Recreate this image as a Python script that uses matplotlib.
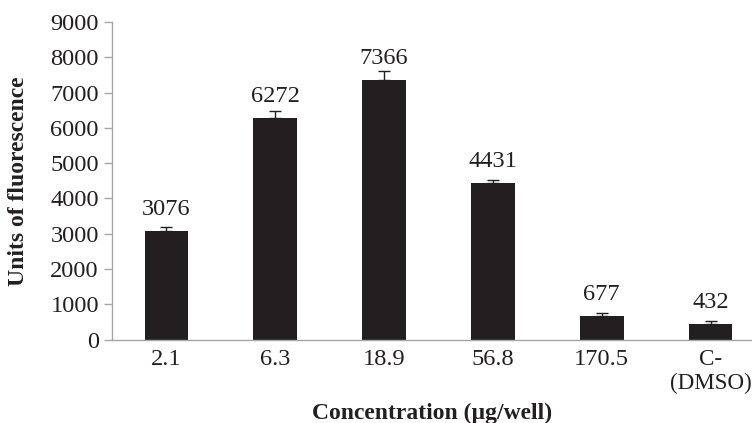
import matplotlib
matplotlib.use("Agg")
import matplotlib.pyplot as plt
import numpy as np

# data
categorias = ["2.1", "6.3", "18.9", "56.8", "170.5", "C-\n(DMSO)"]
fluorescencia = [3076, 6272, 7366, 4431, 677, 432]
error = [110, 210, 250, 100, 70, 100]
etiquetas = ["3076", "6272", "7366", "4431", "677", "432"]

TEXTO = "#231f20"
GRIS = "#a6a6a6"

plt.rcParams["font.family"] = ["Liberation Serif", "DejaVu Serif"]

fig = plt.figure(figsize=(7.52, 4.23), dpi=100)
ax = fig.add_axes([112 / 752, 1 - 339.5 / 423, 1 - 112 / 752, (339.5 - 22) / 423])

x = np.arange(len(categorias))
ax.bar(x, fluorescencia, width=0.4, color=TEXTO, zorder=2)
ax.errorbar(x, fluorescencia, yerr=[np.zeros(len(error)), error], fmt="none",
            ecolor=TEXTO, elinewidth=1, capsize=4.5, capthick=1, zorder=3)

for xi, v, lab in zip(x, fluorescencia, etiquetas):
    ax.annotate(lab, (xi, v), xytext=(0, 11.5), textcoords="offset points",
                ha="center", va="baseline", fontsize=17.6, color=TEXTO)

ax.set_xlim(-0.5, 5.38)
ax.set_ylim(0, 9000)
ax.set_yticks(np.arange(0, 9001, 1000))
ax.set_xticks(x)
ax.set_xticklabels(categorias, linespacing=1.15)
# the last label sits against the right edge, keep it inside
ax.get_xticklabels()[-1].set_fontsize(16.6)

for s in ["top", "right"]:
    ax.spines[s].set_visible(False)
for s in ["left", "bottom"]:
    ax.spines[s].set_color(GRIS)
    ax.spines[s].set_linewidth(1)

ax.tick_params(axis="y", length=5.8, width=1, color=GRIS, labelsize=17.6,
               labelcolor=TEXTO, pad=3.6)
ax.tick_params(axis="x", length=0, labelcolor=TEXTO, pad=7)
for t in ax.get_xticklabels()[:-1]:
    t.set_fontsize(17.6)

ax.set_ylabel("Units of fluorescence", fontsize=17, fontweight="bold", color=TEXTO)
ax.yaxis.set_label_coords(-0.13, 0.5)
ax.set_xlabel("Concentration (\u00b5g/well)", fontsize=17, fontweight="bold", color=TEXTO)
ax.xaxis.set_label_coords(0.5, -0.2)

fig.savefig("out.png", dpi=100)
